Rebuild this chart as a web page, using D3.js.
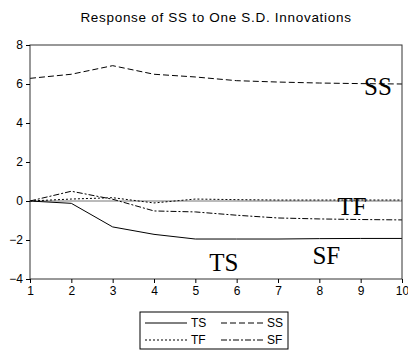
<!DOCTYPE html>
<html>
<head>
<meta charset="utf-8">
<script src="https://cdn.jsdelivr.net/npm/d3@7"></script>
<style>
  body { margin: 0; background: #fff; }
  svg { display: block; }
  .tick text { font-family: Arial, "Liberation Sans", sans-serif; font-size: 12px; fill: #000; }
  .tick line { stroke: #000; }
</style>
</head>
<body>
<div id="chart"></div>
<script>
// periods and responses of SS
const periods = [1, 2, 3, 4, 5, 6, 7, 8, 9, 10]
const ts = [0, -0.12, -1.33, -1.71, -1.95, -1.95, -1.95, -1.93, -1.92, -1.92]
const ss = [6.29, 6.5, 6.94, 6.5, 6.36, 6.17, 6.1, 6.05, 6.02, 6.0]
const tf = [0, 0.1, 0.17, -0.1, 0.1, 0.07, 0.05, 0.05, 0.05, 0.05]
const sf = [0, 0.5, 0.09, -0.51, -0.56, -0.73, -0.87, -0.92, -0.95, -0.97]
const yTicks = [-4, -2, 0, 2, 4, 6, 8]

const series = [
    {name: "TS", values: ts, dash: null},
    {name: "SS", values: ss, dash: "6,3"},
    {name: "TF", values: tf, dash: "2,2"},
    {name: "SF", values: sf, dash: "6,2,2,2"}
]
// in-plot labels, in data units
const labels = [
    {name: "SS", x: 9.42, y: 5.44},
    {name: "TF", x: 8.79, y: -0.72},
    {name: "TS", x: 5.69, y: -3.59},
    {name: "SF", x: 8.17, y: -3.23}
]

const width = 408, height = 350
const margin = {top: 45, right: 6, bottom: 71, left: 30}

const svg = d3.select("#chart").append("svg")
    .attr("width", width)
    .attr("height", height)

const x = d3.scaleLinear().domain([1, 10]).range([margin.left, width - margin.right])
const y = d3.scaleLinear().domain([-4, 8]).range([height - margin.bottom, margin.top])

svg.append("text")
    .attr("x", 216)
    .attr("y", 22)
    .attr("text-anchor", "middle")
    .style("font-family", "Arial, 'Liberation Sans', sans-serif")
    .style("font-size", "13.5px")
    .style("letter-spacing", "0.7px")
    .text("Response of SS to One S.D. Innovations")

// zero line
svg.append("line")
    .attr("x1", x(1)).attr("x2", x(10))
    .attr("y1", y(0)).attr("y2", y(0))
    .attr("stroke", "#777")
    .attr("stroke-width", 1)

const line = d3.line()
    .x((d, i) => x(periods[i]))
    .y(d => y(d))

svg.append("g")
    .selectAll("path")
    .data(series)
    .join("path")
    .attr("d", d => line(d.values))
    .attr("fill", "none")
    .attr("stroke", "#000")
    .attr("stroke-width", 1)
    .attr("stroke-dasharray", d => d.dash)

svg.append("g")
    .selectAll("text")
    .data(labels)
    .join("text")
    .attr("x", d => x(d.x))
    .attr("y", d => y(d.y))
    .attr("text-anchor", "middle")
    .style("font-family", "'Liberation Serif', 'Times New Roman', serif")
    .style("font-size", "25px")
    .text(d => d.name)

// frame
svg.append("rect")
    .attr("x", x(1)).attr("y", y(8))
    .attr("width", x(10) - x(1))
    .attr("height", y(-4) - y(8))
    .attr("fill", "none")
    .attr("stroke", "#333")

svg.append("g")
    .attr("transform", `translate(${x(1)},0)`)
    .call(d3.axisLeft(y).tickValues(yTicks).tickSize(4).tickPadding(3).tickFormat(d3.format("d")))
    .call(g => g.select(".domain").remove())

svg.append("g")
    .attr("transform", `translate(0,${y(-4)})`)
    .call(d3.axisBottom(x).tickValues(periods).tickSize(4).tickPadding(3).tickFormat(d3.format("d")))
    .call(g => g.select(".domain").remove())

// legend
const lg = svg.append("g").attr("transform", "translate(140,312)")
lg.append("rect")
    .attr("width", 148).attr("height", 37)
    .attr("fill", "none").attr("stroke", "#000")

const items = lg.selectAll("g.item")
    .data(series)
    .join("g")
    .attr("class", "item")
    .attr("transform", (d, i) => `translate(${5 + (i % 2) * 76},${11 + Math.floor(i / 2) * 17})`)

items.append("line")
    .attr("x1", 0).attr("x2", 42)
    .attr("stroke", "#000")
    .attr("stroke-dasharray", d => d.dash)

items.append("text")
    .attr("x", 46)
    .attr("dy", "0.35em")
    .style("font-family", "Arial, 'Liberation Sans', sans-serif")
    .style("font-size", "12px")
    .text(d => d.name)
</script>
</body>
</html>
